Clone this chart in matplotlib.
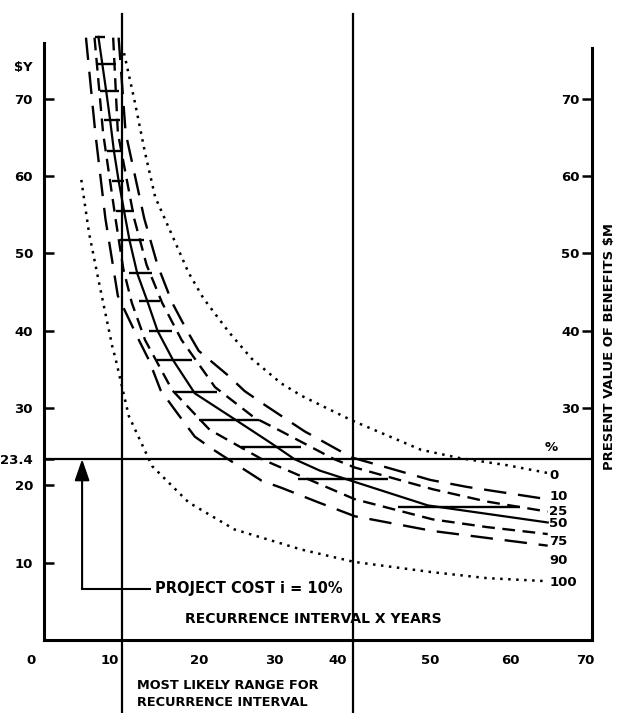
import matplotlib
matplotlib.use('Agg')
import matplotlib.pyplot as plt
from matplotlib import font_manager
from matplotlib.transforms import ScaledTranslation

# pick a narrow lettering font if one is installed
names = {f.name for f in font_manager.fontManager.ttflist}
if 'Liberation Sans Narrow' in names:
    FONT, TXT, TCK = 'Liberation Sans Narrow', 12.5, 10.5
else:
    FONT, TXT, TCK = 'DejaVu Sans', 10.5, 9.5
plt.rcParams['font.family'] = [FONT, 'DejaVu Sans']

# data: recurrence interval (years) vs $ value
p0_x = [10.3, 11.7, 13.0, 14.3, 16.5, 18.6, 20.5, 23.8, 26.7, 30.5, 33.1, 39.6, 48.5, 53.6, 59.6, 64.8]
p0_y = [75.9, 69.5, 63.0, 57.3, 52.3, 47.5, 44.2, 39.8, 36.4, 33.2, 31.6, 28.4, 24.6, 23.5, 22.6, 21.6]

p10_x = [9.6, 10.5, 12.9, 14.6, 16.5, 18.4, 19.9, 23.7, 25.8, 28.4, 33.5, 39.6, 44.5, 49.7, 54.4, 64.8]
p10_y = [77.9, 65.6, 54.5, 48.5, 43.6, 40.0, 37.4, 34.2, 32.2, 30.4, 27.0, 23.6, 22.2, 20.7, 19.8, 18.2]

p25_x = [8.9, 9.5, 11.6, 13.2, 15.2, 17.7, 22.0, 27.0, 30.5, 37.3, 40.0, 50.0, 57.0, 64.8]
p25_y = [77.9, 65.6, 54.5, 48.5, 43.6, 38.8, 32.7, 28.8, 27.0, 23.4, 22.3, 19.5, 17.9, 16.6]

p50_x = [7.0, 7.5, 8.0, 8.5, 9.0, 9.6, 10.3, 11.0, 12.0, 13.3, 14.6, 16.6, 19.4, 24.6, 29.3,
         32.2, 35.5, 39.5, 49.4, 64.8]
p50_y = [78.0, 74.5, 71.0, 67.3, 63.2, 59.4, 55.5, 51.7, 47.4, 43.8, 40.0, 36.2, 31.9, 28.5, 25.4,
         23.4, 21.9, 20.6, 17.4, 15.2]

p75_x = [6.5, 7.6, 9.2, 10.2, 11.3, 13.0, 16.5, 21.3, 28.0, 30.5, 40.0, 50.0, 57.0, 64.8]
p75_y = [77.9, 65.6, 54.5, 48.0, 43.6, 38.8, 32.3, 27.2, 23.4, 22.3, 18.2, 15.6, 14.6, 13.7]

p90_x = [5.4, 6.6, 7.9, 9.5, 12.2, 13.5, 15.0, 17.1, 19.4, 21.8, 24.9, 28.0, 30.5, 35.3, 40.0,
         50.0, 57.0, 64.8]
p90_y = [77.9, 65.6, 54.5, 44.5, 38.8, 36.2, 32.3, 29.4, 26.3, 24.6, 22.6, 20.6, 19.7, 17.8, 16.0,
         14.1, 13.2, 12.2]

p100_x = [4.8, 5.8, 7.1, 8.8, 9.2, 10.9, 13.9, 18.6, 24.5, 33.1, 39.9, 49.7, 57.0, 64.8]
p100_y = [59.5, 52.6, 46.1, 37.9, 36.4, 29.0, 22.5, 17.8, 14.3, 11.7, 10.1, 8.8, 8.0, 7.6]

# horizontal steps along the 50 % curve
stair_y = [78.0, 74.5, 71.0, 67.3, 63.2, 59.4, 55.5, 51.7, 47.4, 43.8, 40.0, 36.2, 32.1, 28.5,
           24.9, 20.8, 17.2]
stair_x0 = [6.6, 6.9, 7.2, 7.7, 8.1, 8.8, 9.2, 9.8, 10.9, 12.2, 13.5, 14.5, 16.9, 19.9, 25.4, 32.7, 45.5]
stair_x1 = [7.9, 9.2, 9.7, 9.8, 10.0, 10.3, 11.6, 12.9, 13.9, 14.9, 16.5, 19.0, 22.2, 27.6, 33.1,
            44.2, 61.3]

project_cost = 23.4
cost_arrow_x = 4.9
range_lines = [10, 39.7]
left_ticks = [10, 20, 23.4, 30, 40, 50, 60, 70]
right_ticks = [30, 40, 50, 60, 70]
x_labels = [0, 10, 20, 30, 40, 50, 60, 70]
x_minor = [20, 30, 50, 60]
pct_labels = ['0', '10', '25', '50', '75', '90', '100']
pct_label_y = [21.3, 18.5, 16.6, 15.1, 12.7, 10.3, 7.5]

LONG = (0, (9.5, 5))
SHORT = (0, (5.4, 3.2))
DOT = (0, (1, 2.2))

fig = plt.figure(figsize=(6.22, 7.13), dpi=100)
ax = fig.add_axes([44 / 622, 73 / 713, 548 / 622, 607 / 713])
ax.set_xlim(0.3, 70.5)
ax.set_ylim(0, 78.5)

# curves
ax.plot(p0_x, p0_y, color='k', lw=1.8, ls=DOT)
ax.plot(p10_x, p10_y, color='k', lw=1.7, ls=LONG)
ax.plot(p25_x, p25_y, color='k', lw=1.7, ls=SHORT)
ax.plot(p50_x, p50_y, color='k', lw=1.6)
ax.plot(p75_x, p75_y, color='k', lw=1.7, ls=SHORT)
ax.plot(p90_x, p90_y, color='k', lw=1.7, ls=LONG)
ax.plot(p100_x, p100_y, color='k', lw=1.8, ls=DOT)
ax.hlines(stair_y, stair_x0, stair_x1, color='k', lw=1.7)

# cost line, range lines and arrow
ax.axhline(project_cost, color='k', lw=1.6)
for xv in range_lines:
    ax.plot([xv, xv], [-9.6, 81], color='k', lw=1.6, clip_on=False)
ax.annotate('', xy=(cost_arrow_x, project_cost), xytext=(cost_arrow_x, 6.6),
            arrowprops=dict(arrowstyle='-|>,head_length=1.3,head_width=0.45',
                            color='k', lw=1.5, shrinkA=0, shrinkB=0))
ax.plot([cost_arrow_x, 13.7], [6.6, 6.6], color='k', lw=1.5)
ax.text(14.3, 6.6, 'PROJECT COST i = 10%', fontsize=TXT, fontweight='bold',
        va='center', ha='left')
ax.text(34.6, 2.7, 'RECURRENCE INTERVAL X YEARS', fontsize=TXT * 0.95, fontweight='bold',
        va='center', ha='center')
ax.text(12.0, -5.1, 'MOST LIKELY RANGE FOR\nRECURRENCE INTERVAL', fontsize=TXT * 0.88,
        fontweight='bold', va='top', ha='left', linespacing=1.35, clip_on=False)

# percentile labels
ax.text(64.4, 24.9, '%', fontsize=TCK, fontweight='bold', va='center', ha='left')
for lab, yv in zip(pct_labels, pct_label_y):
    ax.text(65.0, yv, lab, fontsize=TCK, fontweight='bold', va='center', ha='left')

ax.text(-3.8, 74.1, '$Y', fontsize=TCK, fontweight='bold', va='center', ha='left')
ax.text(72.7, 38, 'PRESENT VALUE OF BENEFITS $M', fontsize=TXT * 0.9, fontweight='bold',
        rotation=90, va='center', ha='center')

# spines
for s in ['left', 'bottom', 'right']:
    ax.spines[s].set_linewidth(2.2)
ax.spines['top'].set_visible(False)
ax.spines['right'].set_visible(False)
ax.spines['left'].set_bounds(0, 77.2)

ax.set_yticks(left_ticks)
ax.set_yticklabels(['%g' % v for v in left_ticks])
ax.tick_params(axis='y', direction='in', length=7, width=1.8, pad=8, labelsize=TCK)
for lab in ax.get_yticklabels():
    lab.set_fontweight('bold')

ax.set_xticks(x_labels)
ax.set_xticklabels([str(v) for v in x_labels])
ax.set_xticks(x_minor, minor=True)
ax.tick_params(axis='x', which='major', length=0, pad=10, labelsize=TCK)
ax.tick_params(axis='x', which='minor', direction='in', length=8, width=2)
shifts = [-13, -12, 0, -3, -17, -2, 0, -3]
for lab, dx in zip(ax.get_xticklabels(), shifts):
    lab.set_fontweight('bold')
    lab.set_transform(lab.get_transform() + ScaledTranslation(dx / 100, 0, fig.dpi_scale_trans))

# right axis
ax2 = ax.twinx()
ax2.set_ylim(ax.get_ylim())
for s in ['left', 'top', 'bottom']:
    ax2.spines[s].set_visible(False)
ax2.spines['right'].set_linewidth(2.2)
ax2.spines['right'].set_bounds(0, 76.6)
ax2.set_yticks(right_ticks)
ax2.tick_params(axis='y', direction='in', length=7, width=1.8, pad=-22, labelsize=TCK)
for lab in ax2.get_yticklabels():
    lab.set_fontweight('bold')

fig.savefig('out.png', dpi=100)
